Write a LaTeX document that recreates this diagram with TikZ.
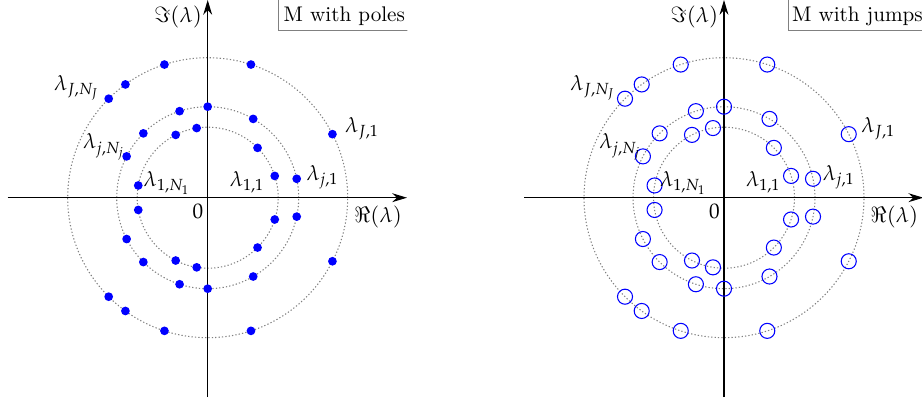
\documentclass[tikz,border=0pt]{standalone}
\usepackage{mathpazo}
\usetikzlibrary{arrows.meta}

\begin{document}
\begin{tikzpicture}[
    x=0.0166cm, y=0.0166cm,
    axis/.style={-{Stealth[length=7pt, width=4.2pt]}, line width=0.5pt},
    orbit/.style={gray, line width=0.5pt, dash pattern=on 0.6pt off 1pt},
    pole/.style={circle, fill=blue, inner sep=0pt, minimum size=0.145cm},
    jump/.style={circle, draw=blue, line width=0.5pt, inner sep=0pt, minimum size=0.25cm},
    tagbox/.style={draw=gray, line width=0.45pt},
    tag/.style={anchor=base west, inner sep=0pt}
]
\useasboundingbox (-207.7,-206.3) rectangle (714.3,197.7);

% === Left panel: poles ===
\begin{scope}
\clip (-205,-205) rectangle (199.6,197.7);
\draw[orbit] (0,0) circle (70.5) (0,0) circle (91) (0,0) circle (140);
\draw[axis] (-200,0) -- (199.3,0);
\draw[axis] (0,-199.3) -- (0,197.7);

% dots on the three circles
\foreach \r/\k/\list in {70.5/1/{18,45,99,117,170}, 91/j/{12,60,90,108,135,153}, 140/J/{27,72,108,126,135}} {
  \foreach \a in \list {
    \node[pole] (pole-\k-\a) at (\a:\r) {};
    \node[pole] (pole-\k-m\a) at (-\a:\r) {};
  }
}

% labels
\node (lJN) at (-131,109.7) {$\lambda_{J,N_J}$};
\node (ljN) at (-103.7,50.7) {$\lambda_{j,N_j}$};
\node (l1N) at (-40.7,14.7) {$\lambda_{1,N_1}$};
\node (l11) at (39.3,15.3) {$\lambda_{1,1}$};
\node (lj1) at (114.8,20.7) {$\lambda_{j,1}$};
\node (lJ1) at (154.3,68.7) {$\lambda_{J,1}$};
\node (zeroL) at (-9.7,-13.3) {$0$};
\node (reL) at (170.3,-19.3) {$\Re(\lambda)$};
\node (imL) at (-29.7,180.7) {$\Im(\lambda)$};

% title box
\draw[tagbox] (70.6,167.7) rectangle (260,260);
\node[tag] (titleL) at (75.6,176) {M with poles};
\end{scope}

% === Right panel: jumps ===
\begin{scope}[shift={(516.3,0)}]
\clip (-205,-205) rectangle (199.6,197.7);
\draw[orbit] (0,0) circle (70.5) (0,0) circle (91) (0,0) circle (140);
\draw[axis] (-200,0) -- (199.3,0);
\draw[axis] (0,-199.3) -- (0,197.7);

% rings on the three circles
\foreach \r/\k/\list in {70.5/1/{18,45,99,117,170}, 91/j/{12,60,90,108,135,153}, 140/J/{27,72,108,126,135}} {
  \foreach \a in \list {
    \node[jump] (jump-\k-\a) at (\a:\r) {};
    \node[jump] (jump-\k-m\a) at (-\a:\r) {};
  }
}

% labels
\node (rJN) at (-131,109.7) {$\lambda_{J,N_J}$};
\node (rjN) at (-103.7,50.7) {$\lambda_{j,N_j}$};
\node (r1N) at (-40.7,14.7) {$\lambda_{1,N_1}$};
\node (r11) at (39.3,15.3) {$\lambda_{1,1}$};
\node (rj1) at (114.8,20.7) {$\lambda_{j,1}$};
\node (rJ1) at (154.3,68.7) {$\lambda_{J,1}$};
\node (zeroR) at (-9.7,-13.3) {$0$};
\node (reR) at (170.3,-19.3) {$\Re(\lambda)$};
\node (imR) at (-29.7,180.7) {$\Im(\lambda)$};

% title box
\draw[tagbox] (64.3,167.7) rectangle (260,260);
\node[tag] (titleR) at (67.7,176) {M with jumps};
\end{scope}

\end{tikzpicture}
\end{document}
